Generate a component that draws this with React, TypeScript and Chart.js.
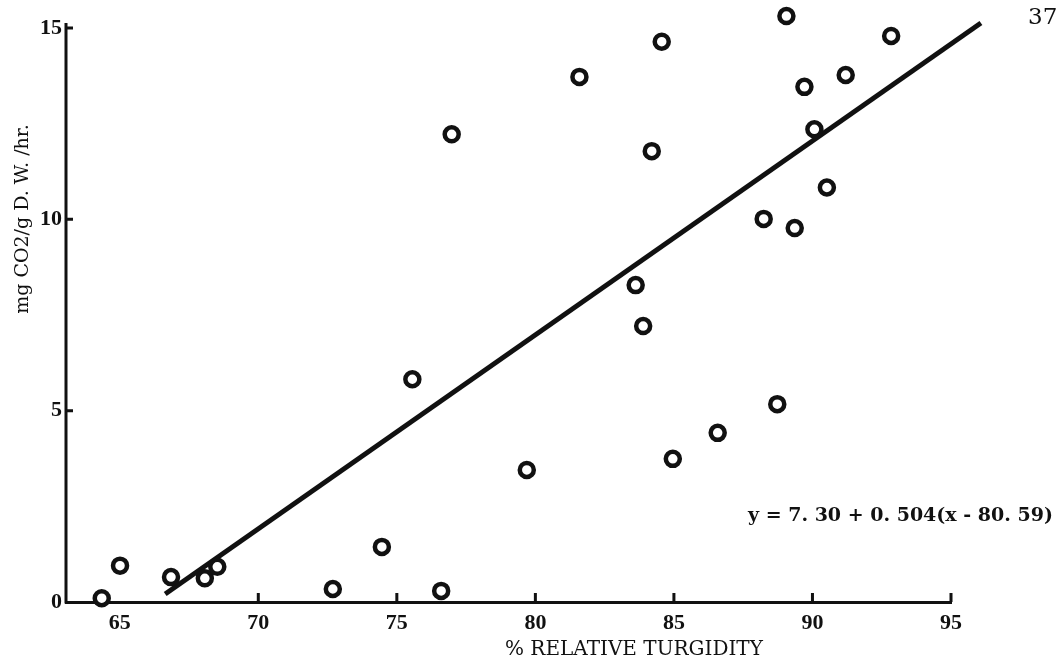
import React, { useEffect, useRef } from "react";
import { Chart, registerables } from "chart.js";

Chart.register(...registerables);

// % relative turgidity (x) and respiration mg CO2/g D.W./hr (y)
const turgidity = [
  64.35, 65.01, 66.85, 68.07, 68.52, 72.69, 74.46, 76.6, 75.56, 76.98, 79.69,
  81.59, 83.62, 83.89, 84.2, 84.56, 84.96, 86.58, 88.73, 88.24, 89.06, 89.36,
  89.71, 90.07, 90.52, 91.2, 92.84,
];
const respiration = [
  0.1, 0.95, 0.65, 0.62, 0.92, 0.34, 1.44, 0.29, 5.82, 12.22, 3.45, 13.72,
  8.28, 7.21, 11.78, 14.64, 3.74, 4.42, 5.17, 10.01, 15.31, 9.77, 13.46, 12.35,
  10.83, 13.77, 14.79,
];
// regression line end points as drawn
const fitX = [66.64, 96.08];
const fitY = [0.21, 15.13];

const xTicks = [65, 70, 75, 80, 85, 90, 95];
const yTicks = [0, 5, 10, 15];
const xMarkTicks = [70, 75, 80, 85, 90, 95];
const yMarkTicks = [5, 10, 15];

const xTitle = "% RELATIVE TURGIDITY";
const yTitle = "mg CO2/g D. W. /hr.";
const equation = "y = 7. 30 + 0. 504(x - 80. 59)";
const pageNumber = "37";

const FONT = "'DejaVu Serif', 'Liberation Serif', serif";
const TICK_FONT = "'Liberation Serif', 'DejaVu Serif', serif";

export default function App() {
  const ref = useRef<HTMLCanvasElement | null>(null);

  useEffect(() => {
    if (!ref.current) return;
    const decor = {
      id: "decor",
      afterDraw(chart: any) {
        const ctx = chart.ctx;
        const xs = chart.scales.x;
        const ys = chart.scales.y;
        const area = chart.chartArea;
        ctx.save();
        ctx.strokeStyle = "#111";
        ctx.lineWidth = 3;
        ctx.lineCap = "butt";
        // y axis line from 0 to just above 15
        ctx.beginPath();
        ctx.moveTo(area.left, area.bottom + 1.5);
        ctx.lineTo(area.left, ys.getPixelForValue(15) - 5);
        ctx.stroke();
        ctx.beginPath();
        for (const v of xMarkTicks) {
          const px = xs.getPixelForValue(v);
          ctx.moveTo(px, area.bottom);
          ctx.lineTo(px, area.bottom - 9);
        }
        for (const v of yMarkTicks) {
          const py = ys.getPixelForValue(v);
          ctx.moveTo(area.left, py);
          ctx.lineTo(area.left + 7, py);
        }
        ctx.stroke();

        ctx.fillStyle = "#111";
        ctx.textBaseline = "middle";
        ctx.textAlign = "left";
        ctx.font = `20px ${FONT}`;
        ctx.fillText(xTitle, 505, 650);
        ctx.font = `bold 19px ${FONT}`;
        ctx.fillText(equation, 748, 516);
        ctx.font = `23px ${FONT}`;
        ctx.fillText(pageNumber, 1028, 18);

        ctx.translate(23, 219);
        ctx.rotate(-Math.PI / 2);
        ctx.textAlign = "center";
        ctx.font = `19px ${FONT}`;
        ctx.fillText(yTitle, 0, 0);
        ctx.restore();
      },
    };

    const chart = new Chart(ref.current, {
      type: "scatter",
      data: {
        datasets: [
          {
            label: "observations",
            data: turgidity.map((x, i) => ({ x, y: respiration[i] })),
            pointRadius: 7,
            pointBorderWidth: 4.5,
            pointBorderColor: "#111",
            pointBackgroundColor: "#fff",
            borderColor: "#111",
            backgroundColor: "#fff",
            clip: false as any,
            order: 0,
          },
          {
            label: "regression",
            type: "line" as any,
            data: fitX.map((x, i) => ({ x, y: fitY[i] })),
            showLine: true,
            borderColor: "#111",
            borderWidth: 5,
            pointRadius: 0,
            fill: false,
            clip: false as any,
            order: 1,
          } as any,
        ],
      },
      options: {
        animation: false,
        responsive: false,
        maintainAspectRatio: false,
        layout: { padding: { left: 0, top: 12.6, right: 112, bottom: 0 } },
        plugins: {
          legend: { display: false },
          tooltip: { enabled: false },
          title: { display: false },
        },
        scales: {
          x: {
            type: "linear",
            min: 63.06,
            max: 95,
            afterBuildTicks: (s: any) => {
              s.ticks = xTicks.map((v) => ({ value: v }));
            },
            afterFit: (s: any) => {
              s.height = 61;
              s.paddingLeft = 0;
              s.paddingRight = 0;
            },
            grid: { display: false, drawTicks: false },
            border: { display: true, color: "#111", width: 3 },
            ticks: {
              color: "#111",
              padding: 8,
              maxRotation: 0,
              autoSkip: false,
              font: { family: TICK_FONT, size: 22, weight: "bold" },
            },
          },
          y: {
            type: "linear",
            min: 0,
            max: 15.4,
            afterBuildTicks: (s: any) => {
              s.ticks = yTicks.map((v) => ({ value: v }));
            },
            afterFit: (s: any) => {
              s.width = 66;
              s.paddingTop = 0;
              s.paddingBottom = 0;
            },
            grid: { display: false, drawTicks: false },
            border: { display: false },
            ticks: {
              color: "#111",
              padding: 4,
              autoSkip: false,
              font: { family: TICK_FONT, size: 22, weight: "bold" },
            },
          },
        },
      },
      plugins: [decor],
    });
    return () => chart.destroy();
  }, []);

  return (
    <div
      style={{
        position: "fixed",
        left: 0,
        top: 0,
        width: 1063,
        height: 663,
        background: "#fff",
      }}
    >
      <canvas ref={ref} width={1063} height={663} style={{ display: "block" }} />
    </div>
  );
}
